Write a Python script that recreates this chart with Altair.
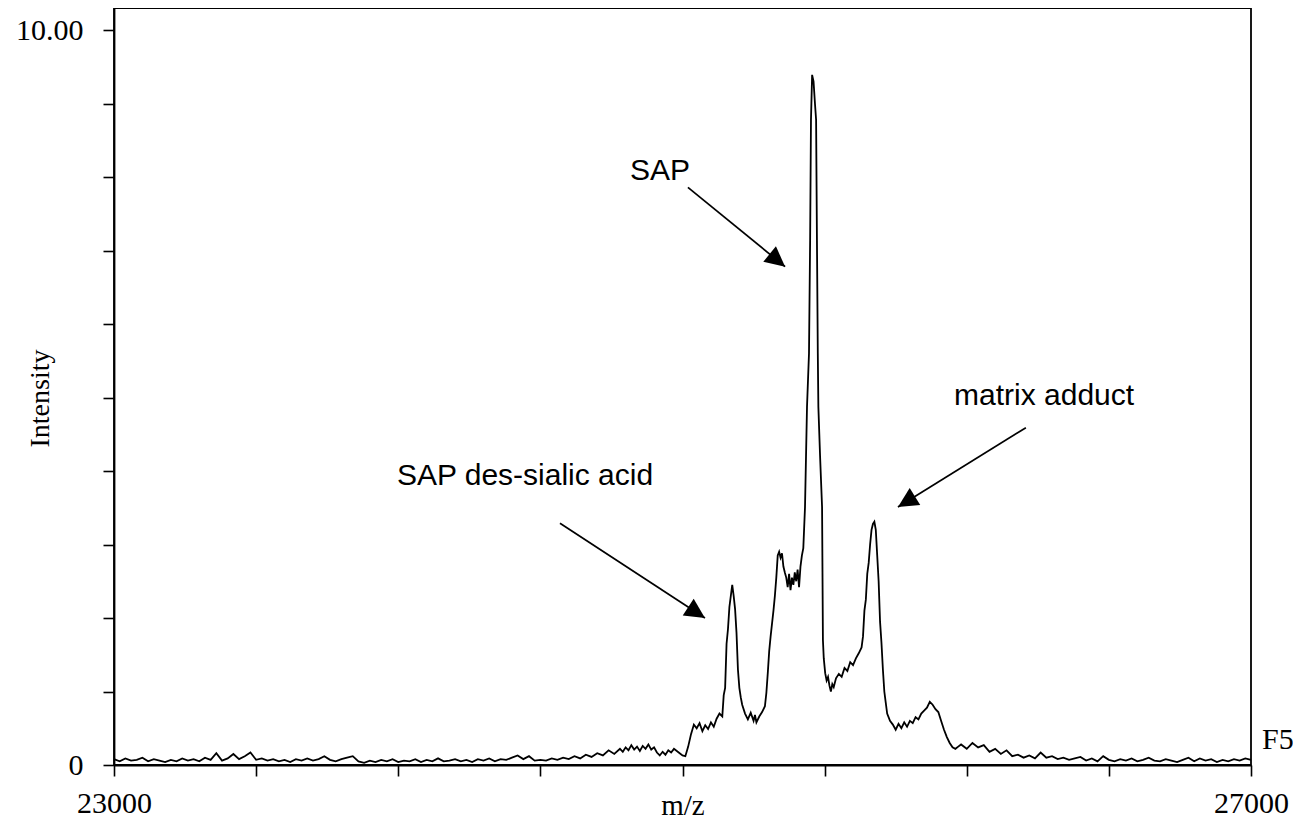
import math
import altair as alt
import pandas as pd

# ---------------- data ----------------
# baseline left of the peaks, sampled every 20 m/z from 23000
left_int = [
    0.08, 0.05, 0.09, 0.06, 0.07, 0.10, 0.05, 0.08, 0.06, 0.04,
    0.07, 0.05, 0.09, 0.06, 0.08, 0.05, 0.10, 0.07, 0.16, 0.06,
    0.09, 0.15, 0.08, 0.12, 0.17, 0.07, 0.09, 0.06, 0.08, 0.05,
    0.07, 0.04, 0.08, 0.06, 0.09, 0.06, 0.08, 0.12, 0.07, 0.05,
    0.08, 0.10, 0.12, 0.05, 0.03, 0.06, 0.04, 0.07, 0.05, 0.08,
    0.04, 0.06, 0.05, 0.08, 0.04, 0.07, 0.05, 0.09, 0.05, 0.06,
    0.08, 0.05, 0.07, 0.04, 0.08, 0.06, 0.09, 0.05, 0.08, 0.07,
    0.10, 0.13, 0.08, 0.12, 0.06, 0.07, 0.06, 0.09, 0.07, 0.10,
    0.08, 0.12, 0.09, 0.14, 0.11, 0.16, 0.13, 0.20, 0.15,
]

# peak region (irregular sampling)
peak_mz = [
    24780, 24790, 24800, 24810, 24820, 24830, 24840, 24850, 24860, 24870,
    24880, 24890, 24900, 24910, 24920, 24930, 24940, 24950, 24960, 24970,
    24980, 24990, 25000, 25010, 25020, 25030, 25040, 25050, 25060, 25070,
    25080, 25090, 25100, 25110, 25120, 25130, 25140, 25145, 25150, 25155,
    25160, 25165, 25170, 25175, 25180, 25185, 25190, 25195, 25200, 25205,
    25210, 25220, 25230, 25240, 25250, 25255, 25260, 25270, 25280, 25290,
    25295, 25300, 25305, 25310, 25320, 25325, 25330, 25335, 25340, 25345,
    25350, 25355, 25360, 25365, 25370, 25375, 25380, 25385, 25390, 25395,
    25400, 25405, 25410, 25415, 25420, 25425, 25431, 25438, 25445, 25449,
    25452, 25456, 25461, 25466, 25470, 25473, 25476, 25478, 25484, 25491,
    25494, 25497, 25502, 25507, 25512, 25517, 25522, 25527, 25532, 25540,
    25550, 25560, 25570, 25580, 25590, 25600, 25610, 25620, 25630, 25635,
    25640, 25645, 25650, 25655, 25660, 25665, 25670, 25675, 25680, 25685,
    25690, 25695, 25700, 25705, 25710, 25715, 25720, 25730, 25740, 25750,
    25760, 25770, 25780, 25790, 25800, 25810, 25820, 25830, 25840, 25850,
    25860, 25870, 25880, 25890, 25900, 25910, 25920, 25930, 25940, 25950,
    25960, 25970,
]
peak_int = [
    0.22, 0.18, 0.24, 0.20, 0.27, 0.21, 0.25, 0.19, 0.26, 0.22,
    0.28, 0.21, 0.24, 0.17, 0.13, 0.18, 0.14, 0.20, 0.17, 0.22,
    0.19, 0.16, 0.13, 0.12, 0.25, 0.42, 0.55, 0.50, 0.57, 0.46,
    0.54, 0.49, 0.58, 0.52, 0.63, 0.70, 0.66, 0.95, 1.05, 1.65,
    1.85, 2.15, 2.30, 2.45, 2.30, 2.12, 1.80, 1.30, 1.05, 0.92,
    0.82, 0.70, 0.62, 0.71, 0.60, 0.68, 0.58, 0.66, 0.72, 0.80,
    0.98, 1.25, 1.55, 1.75, 2.10, 2.30, 2.55, 2.85, 2.90, 2.82,
    2.88, 2.70, 2.62, 2.55, 2.42, 2.60, 2.38, 2.55, 2.45, 2.62,
    2.50, 2.66, 2.42, 2.70, 2.85, 2.95, 3.51, 4.87, 5.60, 7.14,
    8.78, 9.39, 9.30, 9.00, 8.78, 7.14, 5.60, 4.87, 4.20, 3.51,
    1.70, 1.45, 1.25, 1.15, 1.20, 1.08, 1.00, 1.10, 1.06, 1.18,
    1.24, 1.20, 1.32, 1.28, 1.40, 1.36, 1.45, 1.52, 1.60, 1.75,
    2.10, 2.25, 2.60, 2.75, 3.00, 3.20, 3.28, 3.31, 3.20, 2.85,
    2.50, 1.95, 1.66, 1.30, 1.00, 0.85, 0.70, 0.60, 0.55, 0.48,
    0.56, 0.50, 0.58, 0.52, 0.60, 0.57, 0.65, 0.62, 0.70, 0.74,
    0.78, 0.86, 0.82, 0.76, 0.72, 0.60, 0.48, 0.38, 0.30, 0.24,
    0.22, 0.25,
]

# baseline right of the peaks, sampled every 20 m/z from 25980
right_int = [
    0.28, 0.22, 0.30, 0.24, 0.27, 0.18, 0.22, 0.15, 0.20, 0.12,
    0.14, 0.10, 0.13, 0.09, 0.17, 0.10, 0.12, 0.08, 0.10, 0.07,
    0.09, 0.11, 0.06, 0.09, 0.05, 0.12, 0.07, 0.05, 0.08, 0.06,
    0.09, 0.05, 0.07, 0.10, 0.06, 0.05, 0.08, 0.06, 0.04, 0.07,
    0.10, 0.05, 0.09, 0.06, 0.08, 0.04, 0.07, 0.05, 0.08, 0.06,
    0.09, 0.07,
]

x_ticks = [23000, 23500, 24000, 24500, 25000, 25500, 26000, 26500, 27000]
y_ticks = [0, 1, 2, 3, 4, 5, 6, 7, 8, 9, 10]

ann_text = ["SAP", "SAP des-sialic acid", "matrix adduct"]
ann_x = [24921, 24446, 26272]
ann_y = [7.96, 3.81, 4.90]

arrow_x0 = [25019, 24569, 26208]
arrow_y0 = [7.86, 3.29, 4.59]
arrow_x1 = [25361, 25079, 25758]
arrow_y1 = [6.78, 2.00, 3.51]

# ---------------- layout ----------------
W, H = 1137, 757
X_DOM = [23000, 27000]
Y_DOM = [0, 10.30]
px_per_x = W / (X_DOM[1] - X_DOM[0])
px_per_y = H / (Y_DOM[1] - Y_DOM[0])

mz = ([23000 + 20 * i for i in range(len(left_int))] + peak_mz +
      [25980 + 20 * i for i in range(len(right_int))])
inten = left_int + peak_int + right_int
spec = pd.DataFrame({"mz": mz, "intensity": inten})

angles = []
for a, b, c, d in zip(arrow_x0, arrow_y0, arrow_x1, arrow_y1):
    dx = (c - a) * px_per_x
    dy = -(d - b) * px_per_y
    angles.append(math.degrees(math.atan2(dx, -dy)) % 360)

arrows = pd.DataFrame({"mz": arrow_x0, "intensity": arrow_y0,
                       "mz2": arrow_x1, "intensity2": arrow_y1, "angle": angles})
ann = pd.DataFrame({"mz": ann_x, "intensity": ann_y, "label": ann_text})

serif = "Liberation Serif"
sans = "Liberation Sans"

x_enc = alt.X(
    "mz:Q",
    title="m/z",
    scale=alt.Scale(domain=X_DOM, nice=False, zero=False),
    axis=alt.Axis(
        values=x_ticks, format="d",
        labelExpr="(datum.value == 23000 || datum.value == 27000) ? datum.label : ''",
        labelFlush=False, labelOverlap=False, grid=False,
        tickSize=11, tickWidth=1.6, tickColor="black",
        domainColor="black", domainWidth=1.8,
        labelFont=serif, labelFontSize=30, labelColor="black",
        labelPadding=12,
        titleFont=serif, titleFontSize=29, titleFontWeight="normal",
        titleColor="black", titleY=40, titleBaseline="middle",
    ),
)
y_enc = alt.Y(
    "intensity:Q",
    title="Intensity",
    scale=alt.Scale(domain=Y_DOM, nice=False, zero=True),
    axis=alt.Axis(
        values=y_ticks,
        labelExpr="datum.value == 10 ? '10.00' : (datum.value == 0 ? '0' : '')",
        labelOverlap=False, grid=False,
        tickSize=11, tickWidth=1.6, tickColor="black",
        domainColor="black", domainWidth=1.8,
        labelFont=serif, labelFontSize=30, labelColor="black",
        labelPadding=20,
        titleFont=serif, titleFontSize=28, titleFontWeight="normal",
        titleColor="black", titleX=-74, titleY=390, titleAngle=270,
        titleAlign="center", titleBaseline="middle",
    ),
)

line = alt.Chart(spec).mark_line(color="black", strokeWidth=1.8).encode(
    x=x_enc, y=y_enc, order="mz:Q")

rules = alt.Chart(arrows).mark_rule(color="black", strokeWidth=1.7).encode(
    x="mz:Q", y="intensity:Q", x2="mz2:Q", y2="intensity2:Q")

heads = alt.Chart(arrows).mark_point(
    shape="M0,0L-0.5,1L0.5,1Z", filled=True, size=1600,
    color="black", opacity=1, strokeWidth=0,
).encode(x="mz2:Q", y="intensity2:Q",
         angle=alt.Angle("angle:Q", scale=None))

labels = alt.Chart(ann).mark_text(
    font=sans, fontSize=30, align="center", baseline="alphabetic", color="black"
).encode(x="mz:Q", y="intensity:Q", text="label:N")

f5 = alt.Chart(pd.DataFrame({"t": ["F5"]})).mark_text(
    font=serif, fontSize=30, align="left", baseline="middle", color="black"
).encode(x=alt.value(1148), y=alt.value(732), text="t:N")

chart = alt.layer(line, rules, heads, labels, f5).properties(
    width=W, height=H,
    padding={"left": 106, "top": 0, "right": 42, "bottom": 55},
    autosize=alt.AutoSizeParams(type="none"),
    background="white",
).configure_view(stroke="black", strokeWidth=1.8)

chart.save("out.html", embed_options={"renderer": "svg", "actions": False})
